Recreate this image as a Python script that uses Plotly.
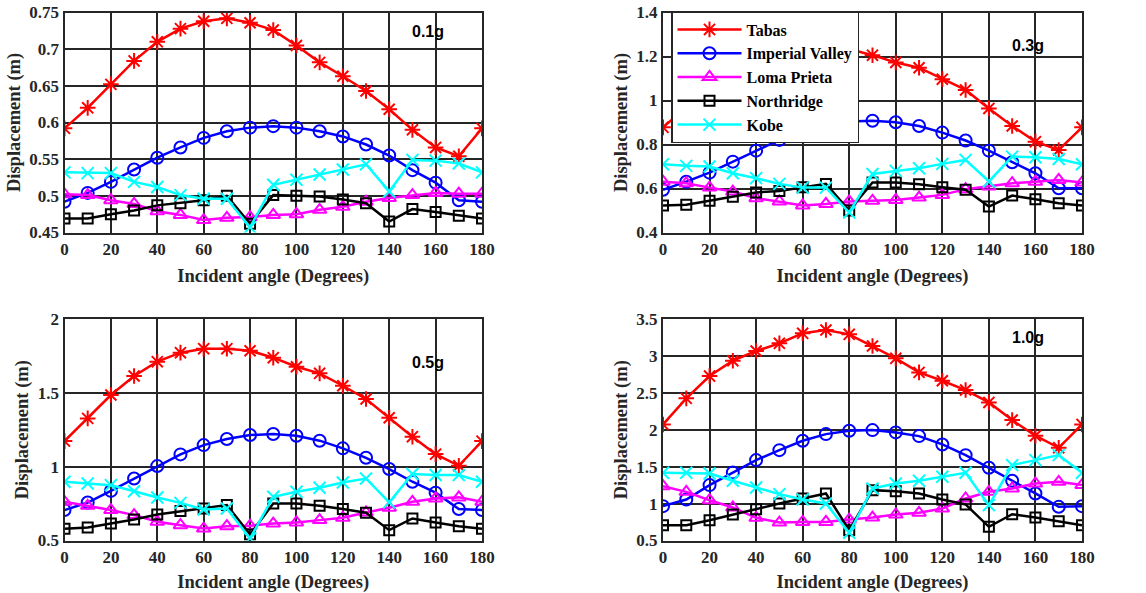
import plotly.graph_objects as go

angles = [0, 10, 20, 30, 40, 50, 60, 70, 80, 90, 100, 110, 120, 130, 140, 150, 160, 170, 180]
series_names = ["Tabas", "Imperial Valley", "Loma Prieta", "Northridge", "Kobe"]

# PGA 0.1g
tabas_01 = [0.592, 0.620, 0.652, 0.684, 0.710, 0.728, 0.738, 0.742, 0.736, 0.726, 0.705, 0.682, 0.663, 0.643, 0.618, 0.590, 0.566, 0.554, 0.592]
imperial_01 = [0.492, 0.504, 0.519, 0.536, 0.552, 0.566, 0.579, 0.588, 0.593, 0.595, 0.593, 0.588, 0.581, 0.570, 0.555, 0.535, 0.518, 0.494, 0.492]
loma_01 = [0.502, 0.501, 0.494, 0.489, 0.479, 0.474, 0.467, 0.470, 0.471, 0.474, 0.475, 0.481, 0.485, 0.492, 0.497, 0.501, 0.504, 0.503, 0.503]
northridge_01 = [0.469, 0.469, 0.475, 0.480, 0.487, 0.490, 0.494, 0.500, 0.462, 0.501, 0.500, 0.499, 0.495, 0.490, 0.465, 0.482, 0.478, 0.473, 0.469]
kobe_01 = [0.532, 0.531, 0.531, 0.519, 0.512, 0.501, 0.496, 0.496, 0.457, 0.515, 0.522, 0.529, 0.536, 0.543, 0.506, 0.549, 0.548, 0.544, 0.532]

# PGA 0.3g
tabas_03 = [0.878, 0.970, 1.060, 1.130, 1.180, 1.220, 1.245, 1.252, 1.234, 1.206, 1.173, 1.149, 1.097, 1.048, 0.964, 0.884, 0.813, 0.775, 0.878]
imperial_03 = [0.594, 0.631, 0.672, 0.722, 0.772, 0.821, 0.858, 0.886, 0.904, 0.908, 0.901, 0.884, 0.854, 0.818, 0.772, 0.719, 0.669, 0.601, 0.601]
loma_03 = [0.631, 0.624, 0.604, 0.586, 0.556, 0.541, 0.523, 0.530, 0.541, 0.544, 0.548, 0.559, 0.571, 0.597, 0.609, 0.624, 0.631, 0.639, 0.627]
northridge_03 = [0.523, 0.526, 0.544, 0.563, 0.582, 0.589, 0.606, 0.621, 0.500, 0.627, 0.627, 0.619, 0.606, 0.594, 0.518, 0.568, 0.551, 0.533, 0.523]
kobe_03 = [0.710, 0.703, 0.700, 0.669, 0.647, 0.621, 0.604, 0.604, 0.491, 0.666, 0.680, 0.692, 0.712, 0.730, 0.632, 0.745, 0.742, 0.734, 0.710]

# PGA 0.5g
tabas_05 = [1.173, 1.327, 1.485, 1.614, 1.711, 1.772, 1.799, 1.799, 1.785, 1.738, 1.677, 1.632, 1.548, 1.458, 1.331, 1.203, 1.085, 1.006, 1.173]
imperial_05 = [0.706, 0.757, 0.836, 0.920, 1.004, 1.083, 1.146, 1.187, 1.214, 1.221, 1.209, 1.176, 1.124, 1.060, 0.984, 0.898, 0.824, 0.713, 0.706]
loma_05 = [0.762, 0.735, 0.706, 0.672, 0.627, 0.604, 0.581, 0.597, 0.600, 0.615, 0.622, 0.638, 0.654, 0.690, 0.722, 0.762, 0.785, 0.792, 0.762]
northridge_05 = [0.579, 0.588, 0.615, 0.642, 0.676, 0.699, 0.717, 0.740, 0.541, 0.751, 0.751, 0.735, 0.713, 0.688, 0.570, 0.649, 0.622, 0.597, 0.579]
kobe_05 = [0.898, 0.886, 0.875, 0.834, 0.791, 0.755, 0.710, 0.717, 0.514, 0.796, 0.830, 0.857, 0.893, 0.920, 0.758, 0.950, 0.943, 0.943, 0.898]

# PGA 1.0g
tabas_10 = [2.072, 2.425, 2.727, 2.935, 3.066, 3.170, 3.306, 3.351, 3.292, 3.134, 2.967, 2.777, 2.664, 2.538, 2.370, 2.131, 1.919, 1.756, 2.072]
imperial_10 = [0.965, 1.055, 1.250, 1.421, 1.589, 1.724, 1.851, 1.941, 1.986, 1.995, 1.964, 1.914, 1.801, 1.656, 1.485, 1.309, 1.137, 0.956, 0.965]
loma_10 = [1.236, 1.159, 1.046, 0.947, 0.807, 0.743, 0.752, 0.752, 0.784, 0.811, 0.852, 0.875, 0.933, 1.069, 1.159, 1.205, 1.272, 1.295, 1.250]
northridge_10 = [0.707, 0.707, 0.775, 0.852, 0.924, 1.001, 1.069, 1.137, 0.640, 1.182, 1.168, 1.137, 1.055, 0.988, 0.685, 0.856, 0.811, 0.761, 0.707]
kobe_10 = [1.417, 1.417, 1.408, 1.309, 1.218, 1.128, 1.055, 1.001, 0.604, 1.205, 1.272, 1.309, 1.363, 1.417, 0.979, 1.521, 1.589, 1.656, 1.417]

panel_labels = ["0.1g", "0.3g", "0.5g", "1.0g"]
y_ranges = [[0.45, 0.75], [0.4, 1.4], [0.5, 2.0], [0.5, 3.5]]
y_dticks = [0.05, 0.2, 0.5, 0.5]
label_y = [0.724, 1.252, 1.704, 3.247]
x_ticks = [0, 20, 40, 60, 80, 100, 120, 140, 160, 180]

panels = [
    [tabas_01, imperial_01, loma_01, northridge_01, kobe_01],
    [tabas_03, imperial_03, loma_03, northridge_03, kobe_03],
    [tabas_05, imperial_05, loma_05, northridge_05, kobe_05],
    [tabas_10, imperial_10, loma_10, northridge_10, kobe_10],
]

styles = [
    dict(color="#ff0000", symbol="asterisk-open", size=13),
    dict(color="#0000ff", symbol="circle-open", size=12),
    dict(color="#ff00ff", symbol="triangle-up-open", size=12),
    dict(color="#000000", symbol="square-open", size=10),
    dict(color="#00ffff", symbol="x-thin-open", size=12),
]

W, H = 1146, 593
# plot-area boxes in pixels: (left, right, top, bottom)
boxes = [(64.5, 482.0, 12.5, 232.5), (663.0, 1082.0, 12.5, 232.5),
         (64.5, 482.0, 319.0, 540.5), (663.0, 1082.0, 319.0, 540.5)]

serif = "Liberation Serif, Times New Roman, serif"
ink = "#262626"
tick_font = dict(family=serif, size=17, color=ink, weight="bold")
title_font = dict(family=serif, size=18.5, color=ink, weight="bold")

fig = go.Figure()
for p, data in enumerate(panels):
    ax = "" if p == 0 else str(p + 1)
    for s, (name, ys) in enumerate(zip(series_names, data)):
        st = styles[s]
        fig.add_trace(go.Scatter(
            x=angles, y=ys, name=name, mode="lines+markers",
            xaxis="x" + ax, yaxis="y" + ax,
            showlegend=(p == 0),
            line=dict(color=st["color"], width=2.5),
            marker=dict(symbol=st["symbol"], size=st["size"], color=st["color"],
                        line=dict(color=st["color"], width=2)),
        ))
    l, r, t, b = boxes[p]
    fig.update_layout(**{
        "xaxis" + ax: dict(domain=[l / W, r / W], range=[0, 180],
                            tickmode="array", tickvals=x_ticks, anchor="y" + ax,
                            title=dict(text="Incident angle (Degrees)", standoff=11)),
        "yaxis" + ax: dict(domain=[1 - b / H, 1 - t / H], range=y_ranges[p],
                            dtick=y_dticks[p], anchor="x" + ax,
                            title=dict(text="Displacement (m)", standoff=4)),
    })
    fig.add_annotation(x=156.7, y=label_y[p], xref="x" + ax, yref="y" + ax,
                       text=panel_labels[p], showarrow=False,
                       font=dict(family="Liberation Sans, Arial, sans-serif", size=16,
                                 color="#000000", weight="bold"))

axis_style = dict(showgrid=True, gridcolor=ink, gridwidth=2,
                  showline=True, linecolor=ink, linewidth=2, mirror=True,
                  zeroline=False, ticks="", automargin=False,
                  tickfont=tick_font, title_font=title_font)
fig.update_xaxes(**axis_style)
fig.update_yaxes(**axis_style)

fig.update_layout(
    width=W, height=H,
    margin=dict(l=0, r=0, t=0, b=0, autoexpand=False),
    font=dict(family=serif, color=ink, weight="bold"),
    plot_bgcolor="white", paper_bgcolor="white",
    legend=dict(x=671 / W, y=1 - 11 / H, xanchor="left", yanchor="top",
                bgcolor="white", bordercolor=ink, borderwidth=1.5,
                font=dict(family=serif, size=16, color="#000000", weight="bold"),
                itemwidth=64, tracegroupgap=0),
)

fig.write_html("out.html")
